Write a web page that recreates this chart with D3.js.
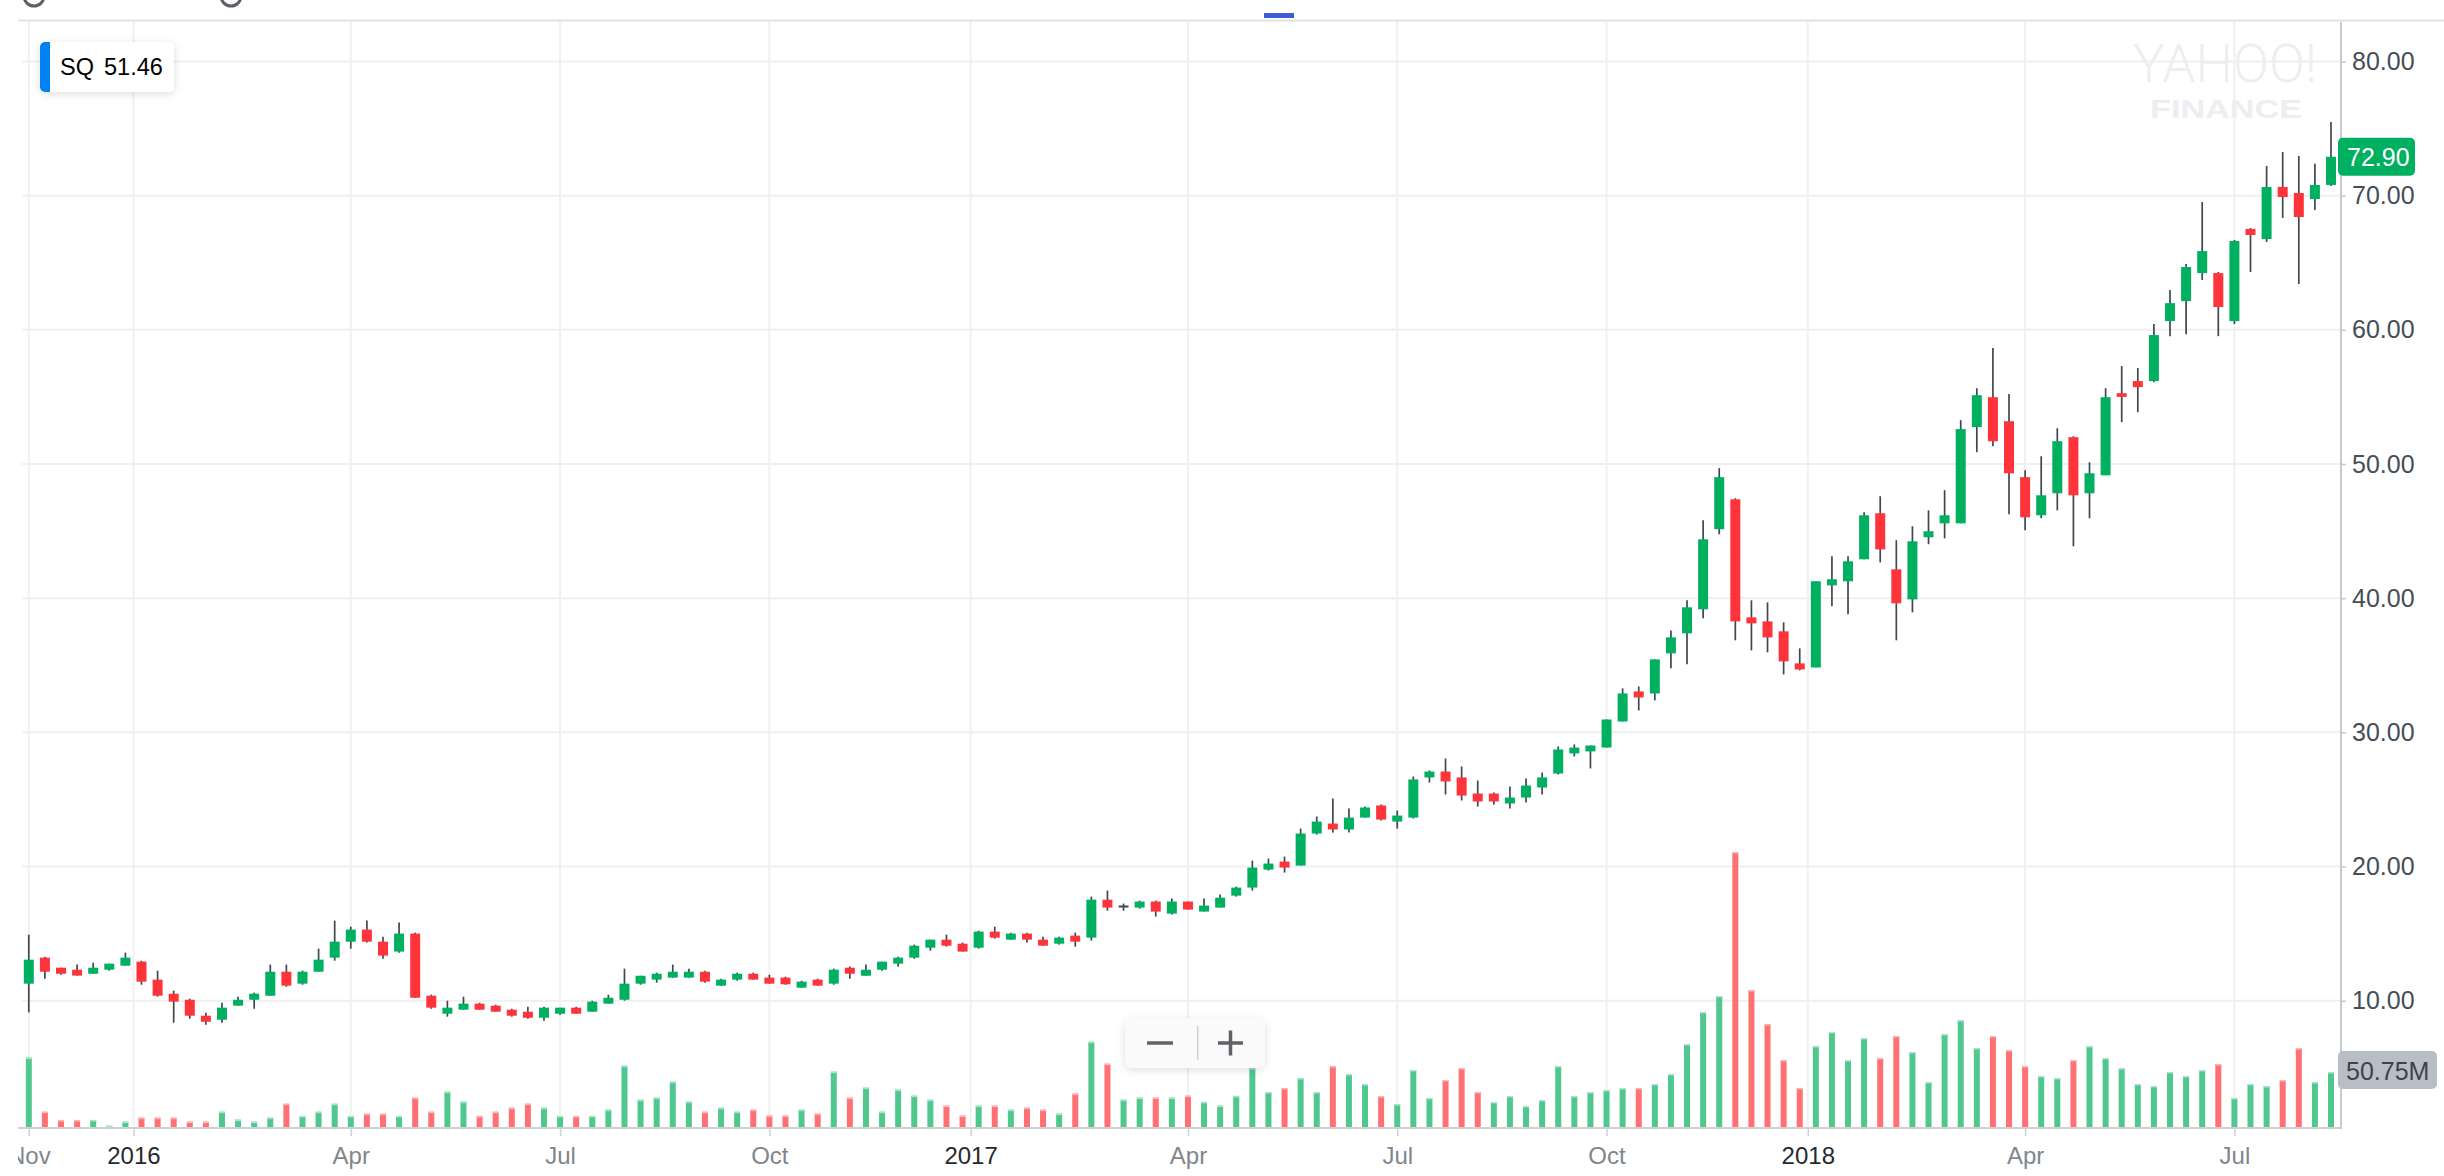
<!DOCTYPE html>
<html>
<head>
<meta charset="utf-8">
<script src="https://cdn.jsdelivr.net/npm/d3@7"></script>
<style>
  html, body { margin: 0; padding: 0; background: #fff; }
  svg { display: block; font-family: "Helvetica Neue", Helvetica, Arial, "Liberation Sans", sans-serif; }
</style>
</head>
<body>
<svg class="canvas" width="2444" height="1176"></svg>
<script>
// weekly candles, SQ, week of Nov 16 2015 .. week of Aug 13 2018
const open = [
  11.27, 13.21, 12.46, 12.31, 12.01, 12.31, 12.61, 12.91, 11.57, 10.52,
  10.07, 8.88, 8.58, 9.63, 10.07, 10.37, 12.16, 11.27, 12.16, 13.21,
  14.40, 15.30, 14.40, 13.66, 15.00, 10.37, 9.03, 9.33, 9.78, 9.63,
  9.33, 9.18, 8.73, 9.03, 9.48, 9.18, 9.78, 10.07, 11.27, 11.57,
  11.72, 11.72, 12.16, 11.12, 11.57, 12.01, 11.72, 11.72, 10.97, 11.57,
  11.27, 12.46, 11.86, 12.31, 12.76, 13.21, 13.95, 14.55, 14.25, 13.95,
  15.15, 14.55, 15.00, 14.55, 14.25, 14.85, 14.70, 17.53, 17.00, 16.94,
  17.39, 16.49, 17.39, 16.64, 16.94, 17.83, 18.43, 19.77, 20.37, 20.07,
  22.46, 23.20, 22.76, 23.65, 24.55, 23.35, 23.65, 26.64, 27.08, 26.64,
  25.44, 25.44, 24.70, 25.14, 25.89, 26.93, 28.43, 28.58, 28.87, 30.81,
  33.05, 32.90, 35.89, 37.38, 39.17, 45.14, 47.37, 38.57, 38.27, 37.53,
  35.14, 34.84, 40.96, 41.26, 42.90, 46.33, 42.15, 39.91, 44.54, 45.58,
  45.58, 52.75, 54.98, 53.19, 49.02, 46.18, 47.82, 52.00, 47.82, 49.16,
  55.28, 56.18, 56.18, 60.65, 62.14, 64.23, 64.23, 60.65, 67.52, 66.77,
  70.65, 70.20, 69.75, 70.80
];
const high = [
  14.92, 13.28, 12.46, 12.69, 12.83, 12.76, 13.58, 12.98, 12.24, 10.75,
  10.15, 9.10, 9.85, 10.30, 10.60, 12.69, 12.69, 12.24, 13.88, 15.97,
  15.52, 15.97, 14.77, 15.82, 15.07, 10.45, 10.00, 10.30, 9.85, 9.70,
  9.40, 9.55, 9.55, 9.48, 9.55, 10.00, 10.45, 12.39, 11.86, 12.09,
  12.69, 12.39, 12.24, 11.64, 12.09, 12.09, 11.94, 11.79, 11.49, 11.64,
  12.39, 12.54, 12.69, 12.91, 13.28, 14.18, 14.55, 14.92, 14.33, 15.22,
  15.52, 15.07, 15.07, 14.77, 14.77, 15.07, 17.76, 18.21, 17.24, 17.46,
  17.46, 17.61, 17.39, 17.61, 17.91, 18.50, 20.44, 20.59, 20.74, 22.83,
  23.73, 25.07, 24.32, 24.47, 24.62, 24.17, 26.71, 27.16, 28.05, 27.46,
  26.41, 25.52, 25.96, 26.56, 27.01, 28.95, 29.10, 29.02, 30.96, 33.28,
  33.42, 35.44, 37.60, 39.84, 45.81, 49.69, 47.45, 39.84, 39.69, 38.20,
  36.26, 41.26, 43.12, 43.12, 46.40, 47.60, 44.32, 45.36, 46.55, 48.05,
  53.27, 55.65, 58.64, 55.21, 49.54, 50.58, 52.67, 52.07, 50.13, 55.65,
  57.30, 57.15, 60.43, 62.97, 64.91, 69.53, 64.31, 66.70, 67.59, 72.22,
  73.26, 72.96, 72.37, 75.50
];
const low = [
  9.13, 11.64, 11.94, 11.87, 12.01, 12.24, 12.61, 11.19, 10.30, 8.36,
  8.66, 8.21, 8.36, 9.63, 9.40, 10.37, 11.04, 11.19, 12.16, 12.98,
  13.88, 14.33, 13.13, 13.58, 10.22, 9.40, 8.81, 9.33, 9.33, 9.18,
  8.81, 8.66, 8.51, 8.96, 9.03, 9.18, 9.78, 10.00, 11.19, 11.34,
  11.72, 11.72, 11.34, 11.12, 11.49, 11.57, 11.27, 11.19, 10.97, 11.12,
  11.19, 11.64, 11.86, 12.24, 12.54, 13.13, 13.73, 14.03, 13.66, 13.88,
  14.63, 14.55, 14.33, 14.10, 14.18, 14.03, 14.48, 16.71, 16.71, 16.86,
  16.27, 16.42, 16.79, 16.64, 16.94, 17.76, 18.21, 19.70, 19.55, 20.07,
  22.38, 22.53, 22.53, 23.65, 23.43, 22.83, 23.58, 26.26, 25.37, 24.92,
  24.47, 24.62, 24.32, 24.77, 25.37, 26.86, 28.20, 27.31, 28.87, 30.81,
  31.63, 32.38, 34.77, 35.07, 38.50, 44.76, 36.86, 36.11, 35.96, 34.32,
  34.62, 34.84, 39.39, 38.80, 42.90, 42.67, 36.86, 38.94, 44.02, 44.46,
  45.58, 50.88, 51.33, 46.26, 45.06, 45.96, 46.55, 43.87, 45.96, 49.16,
  53.12, 53.86, 56.10, 59.53, 59.68, 63.71, 59.53, 60.43, 64.31, 66.55,
  68.34, 63.41, 68.93, 70.72
];
const close = [
  13.06, 12.16, 12.01, 11.87, 12.46, 12.76, 13.21, 11.42, 10.37, 9.93,
  8.88, 8.43, 9.48, 10.07, 10.52, 12.16, 11.12, 12.16, 13.06, 14.40,
  15.30, 14.40, 13.36, 15.00, 10.22, 9.48, 9.48, 9.78, 9.33, 9.18,
  8.88, 8.73, 9.48, 9.48, 9.03, 9.93, 10.22, 11.27, 11.86, 12.01,
  12.16, 12.16, 11.42, 11.57, 12.01, 11.57, 11.27, 11.22, 11.42, 11.12,
  12.31, 12.01, 12.31, 12.91, 13.21, 14.10, 14.55, 14.10, 13.66, 15.15,
  14.70, 15.00, 14.55, 14.10, 14.70, 14.40, 17.53, 16.94, 17.04, 17.39,
  16.64, 17.39, 16.79, 17.09, 17.68, 18.43, 19.92, 20.22, 19.92, 22.46,
  23.35, 22.76, 23.65, 24.40, 23.50, 23.80, 26.49, 27.08, 26.34, 25.29,
  24.85, 24.85, 25.14, 26.04, 26.64, 28.72, 28.87, 29.02, 30.96, 32.90,
  32.60, 35.44, 37.08, 39.32, 44.39, 49.02, 38.27, 38.12, 37.08, 35.29,
  34.69, 41.26, 41.41, 42.75, 46.18, 43.64, 39.62, 44.24, 44.99, 46.18,
  52.60, 55.13, 51.70, 49.31, 46.03, 47.67, 51.70, 47.67, 49.31, 54.98,
  55.00, 55.73, 59.61, 61.99, 64.68, 65.87, 61.70, 66.62, 67.07, 70.65,
  69.90, 68.41, 70.80, 72.90
];
// weekly volume, millions
const volume = [
  64.0, 14.1, 6.5, 6.5, 6.5, 1.2, 4.9, 8.6, 8.6, 8.6,
  4.9, 4.9, 14.1, 6.8, 4.9, 8.6, 21.5, 10.2, 14.1, 21.5,
  10.2, 12.3, 12.3, 10.2, 27.1, 14.1, 32.6, 23.4, 10.2, 14.1,
  17.8, 21.5, 17.8, 10.2, 10.2, 10.2, 16.0, 56.6, 25.2, 27.1,
  41.8, 23.4, 14.1, 17.8, 14.1, 16.0, 10.5, 10.5, 16.0, 12.3,
  51.1, 27.1, 36.3, 14.1, 34.5, 28.9, 25.2, 19.7, 10.5, 19.7,
  19.7, 16.0, 17.8, 16.0, 12.3, 30.8, 78.7, 58.4, 25.2, 27.1,
  27.1, 27.1, 28.9, 23.2, 19.7, 28.7, 54.4, 32.3, 36.0, 45.2,
  32.3, 56.3, 48.9, 39.7, 28.6, 21.2, 52.6, 26.8, 43.4, 54.4,
  32.3, 23.1, 28.6, 19.4, 24.9, 56.3, 28.6, 32.3, 34.1, 36.0,
  36.0, 39.7, 48.9, 76.6, 106.1, 120.9, 253.8, 126.4, 95.0, 61.8,
  36.0, 74.7, 87.7, 61.8, 82.1, 63.7, 84.0, 69.2, 41.5, 85.8,
  98.7, 72.9, 84.0, 71.1, 56.3, 47.1, 45.2, 61.8, 74.7, 63.7,
  54.4, 39.7, 37.8, 50.8, 47.1, 52.6, 58.1, 26.8, 39.7, 37.8,
  43.4, 72.9, 41.5, 50.75
];
const tickWeeks = [0, 7, 20, 33, 46, 59, 72, 85, 98, 111, 124, 137];
const tickLabels = ["Nov", "2016", "Apr", "Jul", "Oct", "2017", "Apr", "Jul", "Oct", "2018", "Apr", "Jul"];
const priceTicks = [10, 20, 30, 40, 50, 60, 70, 80];
const symbol = "SQ";
const legendValue = "51.46";

const svg = d3.select(".canvas");
const W = 2444, H = 1176;
const plot = { left: 18, right: 2341, top: 21, bottom: 1128 };

const green = "#00b061", red = "#ff333a", wickColor = "#3f4750";
const volGreen = "#4fc78f", volRed = "#ff7075";

const x = d3.scaleLinear().domain([0, close.length - 1]).range([28.8, 2331]);
const y = d3.scaleLinear().domain([10, 80]).range([1000.7, 61.5]);
const yVol = d3.scaleLinear().domain([0, d3.max(volume)]).range([plot.bottom - 1, 852]);

const candles = close.map((c, i) => ({
  i, o: open[i], h: high[i], l: low[i], c, v: volume[i],
  up: c >= open[i],
  volUp: i === 0 ? c >= open[i] : c >= close[i - 1]
}));

const defs = svg.append("defs");
const sh = defs.append("filter").attr("id", "shadow")
  .attr("x", "-30%").attr("y", "-30%").attr("width", "160%").attr("height", "180%");
sh.append("feDropShadow").attr("dx", 0).attr("dy", 2).attr("stdDeviation", 4)
  .attr("flood-color", "#000").attr("flood-opacity", 0.13);
defs.append("clipPath").attr("id", "leftClip")
  .append("rect").attr("x", plot.left).attr("y", -2000).attr("width", W).attr("height", 4000);

// bits of the toolbar above the chart, cut off by the frame
svg.append("g").selectAll("circle").data([34, 231]).join("circle")
  .attr("cx", (d) => d).attr("cy", -4).attr("r", 10)
  .attr("fill", "none").attr("stroke", "#5b6066").attr("stroke-width", 3);
svg.append("rect").attr("x", 1264).attr("y", 13).attr("width", 30).attr("height", 5)
  .attr("fill", "#3f5bd5");
svg.append("line").attr("x1", plot.left).attr("x2", W).attr("y1", 20.5).attr("y2", 20.5)
  .attr("stroke", "#dfe2e6").attr("stroke-width", 2);

// grid
const yearTick = (i) => /^\d{4}$/.test(tickLabels[i]);
const tickPos = tickWeeks.map((w, i) => (yearTick(i) ? w - 0.5 : w));

svg.append("g").selectAll("line").data(priceTicks).join("line")
  .attr("x1", plot.left + 4).attr("x2", plot.right)
  .attr("y1", (d) => y(d)).attr("y2", (d) => y(d))
  .attr("stroke", "#efefef").attr("stroke-width", 2);
svg.append("g").selectAll("line").data(tickPos).join("line")
  .attr("x1", (d) => x(d)).attr("x2", (d) => x(d))
  .attr("y1", plot.top + 1).attr("y2", plot.bottom)
  .attr("stroke", "#f0f0f0").attr("stroke-width", 2);

// watermark
svg.append("text").attr("x", 2133).attr("y", 82)
  .attr("textLength", 184).attr("lengthAdjust", "spacingAndGlyphs")
  .attr("font-family", "Roboto, 'Liberation Sans', sans-serif").attr("font-weight", 300)
  .attr("font-size", 54).attr("fill", "#eceef1").text("YAHOO!");
svg.append("text").attr("x", 2150).attr("y", 118)
  .attr("textLength", 152).attr("lengthAdjust", "spacingAndGlyphs")
  .attr("font-family", "'Liberation Sans', Arial, sans-serif").attr("font-weight", 700)
  .attr("font-size", 26).attr("fill", "#eceef1").text("FINANCE");

// volume bars
const vol = svg.append("g");
vol.selectAll("rect.bar").data(candles).join("rect").attr("class", "bar")
  .attr("x", (d) => x(d.i) - 3).attr("width", 6)
  .attr("y", (d) => yVol(d.v)).attr("height", (d) => yVol(0) - yVol(d.v))
  .attr("fill", (d) => (d.volUp ? volGreen : volRed));
vol.selectAll("rect.cap").data(candles).join("rect").attr("class", "cap")
  .attr("x", (d) => x(d.i) - 3).attr("width", 6)
  .attr("y", (d) => yVol(d.v)).attr("height", 1.5)
  .attr("fill", (d) => (d.volUp ? "#a9e5c7" : "#ffb5b7"));

// candles
const cg = svg.append("g");
cg.selectAll("line").data(candles).join("line")
  .attr("x1", (d) => x(d.i)).attr("x2", (d) => x(d.i))
  .attr("y1", (d) => y(d.h)).attr("y2", (d) => y(d.l))
  .attr("stroke", wickColor).attr("stroke-width", 1.7);
cg.selectAll("rect").data(candles).join("rect")
  .attr("x", (d) => x(d.i) - 5).attr("width", 10)
  .attr("y", (d) => {
    const top = y(Math.max(d.o, d.c)), hgt = Math.abs(y(d.o) - y(d.c));
    return hgt < 2 ? (top + hgt / 2 - 1) : top;
  })
  .attr("height", (d) => Math.max(2, Math.abs(y(d.o) - y(d.c))))
  .attr("fill", (d) => (Math.abs(d.c - d.o) < 0.1 ? wickColor : d.up ? green : red));

// bottom axis
svg.append("line").attr("x1", plot.left).attr("x2", plot.right)
  .attr("y1", plot.bottom).attr("y2", plot.bottom)
  .attr("stroke", "#cdd0d4").attr("stroke-width", 2);
const xAxis = d3.axisBottom(x).tickValues(tickPos)
  .tickFormat((d, i) => tickLabels[i]).tickSize(8).tickPadding(11);
const xg = svg.append("g").attr("transform", `translate(0,${plot.bottom})`)
  .attr("clip-path", "url(#leftClip)").call(xAxis);
xg.attr("font-family", null).attr("font-size", 24);
xg.select(".domain").remove();
xg.selectAll(".tick line").attr("stroke", "#cdd0d4").attr("stroke-width", 1.5);
xg.selectAll(".tick text")
  .attr("fill", (d, i) => (yearTick(i) ? "#26292d" : "#80868c"));

// right axis
svg.append("line").attr("x1", plot.right).attr("x2", plot.right)
  .attr("y1", plot.top + 1).attr("y2", plot.bottom + 1)
  .attr("stroke", "#c6cacf").attr("stroke-width", 2);
const yAxis = d3.axisRight(y).tickValues(priceTicks)
  .tickFormat(d3.format(".2f")).tickSize(5).tickPadding(6);
const yg = svg.append("g").attr("transform", `translate(${plot.right},0)`).call(yAxis);
yg.attr("font-family", null).attr("font-size", 25);
yg.select(".domain").remove();
yg.selectAll(".tick line").attr("stroke", "#c6cacf").attr("stroke-width", 1.5);
yg.selectAll(".tick text").attr("fill", "#464e56");

// last price and last volume tags
const last = candles[candles.length - 1];
const priceTag = svg.append("g").attr("transform", `translate(2338,${y(last.c)})`);
priceTag.append("rect").attr("x", 0).attr("y", -19).attr("width", 77).attr("height", 38)
  .attr("rx", 5).attr("fill", green);
priceTag.append("text").attr("x", 9).attr("y", 9.5).attr("font-size", 25)
  .attr("fill", "#fff").text(d3.format(".2f")(last.c));
const volTag = svg.append("g").attr("transform", `translate(2338,${yVol(last.v) - 2})`);
volTag.append("rect").attr("x", 0).attr("y", -19).attr("width", 99).attr("height", 38)
  .attr("rx", 5).attr("fill", "#b9bec6");
volTag.append("text").attr("x", 8).attr("y", 9.5).attr("font-size", 25)
  .attr("fill", "#3c434b").text(d3.format(".2f")(last.v) + "M");

// legend
const lg = svg.append("g").attr("transform", "translate(40,42)");
lg.append("rect").attr("width", 134).attr("height", 50).attr("rx", 5)
  .attr("fill", "#fff").attr("filter", "url(#shadow)");
lg.append("path").attr("d", "M5,0 H10 V50 H5 A5,5 0 0 1 0,45 V5 A5,5 0 0 1 5,0 Z")
  .attr("fill", "#0081f2");
lg.append("text").attr("x", 20).attr("y", 33).attr("font-size", 23.5).attr("fill", "#000")
  .text(symbol);
lg.append("text").attr("x", 64).attr("y", 33).attr("font-size", 23.5).attr("fill", "#000")
  .text(legendValue);

// zoom control
const zc = svg.append("g").attr("transform", "translate(1125,1018)");
zc.append("rect").attr("width", 140).attr("height", 50).attr("rx", 8)
  .attr("fill", "#fafafa").attr("filter", "url(#shadow)");
zc.append("line").attr("x1", 22).attr("x2", 48).attr("y1", 25).attr("y2", 25)
  .attr("stroke", "#5f6368").attr("stroke-width", 3.5);
zc.append("line").attr("x1", 72.7).attr("x2", 72.7).attr("y1", 8).attr("y2", 42)
  .attr("stroke", "#cfd1d4").attr("stroke-width", 1.5);
zc.append("line").attr("x1", 93).attr("x2", 118).attr("y1", 25).attr("y2", 25)
  .attr("stroke", "#5f6368").attr("stroke-width", 3.5);
zc.append("line").attr("x1", 105.5).attr("x2", 105.5).attr("y1", 12.5).attr("y2", 37.5)
  .attr("stroke", "#5f6368").attr("stroke-width", 3.5);
</script>
</body>
</html>
